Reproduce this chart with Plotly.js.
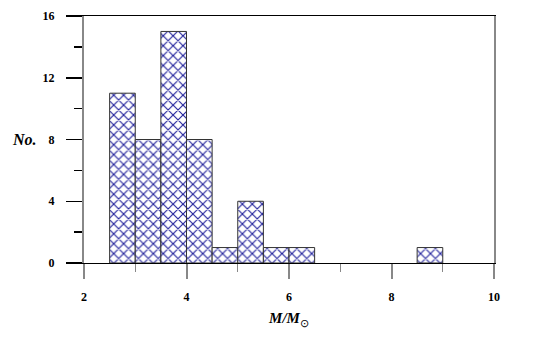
<!DOCTYPE html>
<html>
<head>
<meta charset="utf-8">
<script src="https://cdn.plot.ly/plotly-3.0.1.min.js"></script>
<style>
  html, body { margin: 0; padding: 0; background: #fff; }
  #chart { width: 545px; height: 344px; }
</style>
</head>
<body>
<div id="chart"></div>
<script>
// mass bins (centres, width 0.5) and counts
var binCentres = [2.75, 3.25, 3.75, 4.25, 4.75, 5.25, 5.75, 6.25, 8.75];
var binCounts = [11, 8, 15, 8, 1, 4, 1, 1, 1];
var binWidth = 0.5;

var xTicks = [2, 4, 6, 8, 10];
var yTicks = [0, 4, 8, 12, 16];

var serif = '"Liberation Serif", "Times New Roman", serif';

var bars = {
    type: 'bar',
    x: binCentres,
    y: binCounts,
    width: binWidth,
    marker: {
        color: 'white',
        line: { color: '#333', width: 1 },
        pattern: {
            shape: 'x',
            fgcolor: '#22229c',
            bgcolor: 'white',
            size: 7,
            solidity: 0.3
        }
    },
    hoverinfo: 'x+y'
};

var layout = {
    width: 545,
    height: 344,
    margin: { l: 84, r: 51, t: 16, b: 81 },
    paper_bgcolor: 'white',
    plot_bgcolor: 'white',
    showlegend: false,
    bargap: 0,
    font: { family: serif, color: '#000' },
    xaxis: {
        range: [2, 10],
        tickvals: xTicks,
        ticktext: xTicks.map(String),
        ticks: 'outside',
        ticklen: 15,
        tickwidth: 2,
        tickcolor: '#888',
        minor: { dtick: 1, tick0: 0, ticks: 'outside', ticklen: 8, tickcolor: '#888', tickwidth: 1 },
        showgrid: false,
        zeroline: false,
        showline: true,
        linecolor: '#000',
        linewidth: 1,
        mirror: true,
        ticklabelstandoff: 8,
        tickfont: { family: serif, size: 12, color: '#000', weight: 'bold' },
        title: {
            text: '<b><i>M/M</i></b><sub>⊙</sub>',
            font: { family: serif, size: 15, color: '#000' },
            standoff: 9
        }
    },
    yaxis: {
        range: [0, 16],
        tickvals: yTicks,
        ticktext: yTicks.map(String),
        ticks: 'outside',
        ticklen: 16,
        tickwidth: 1.5,
        tickcolor: '#000',
        minor: { dtick: 2, tick0: 0, ticks: 'outside', ticklen: 8, tickcolor: '#000', tickwidth: 1.5 },
        showgrid: false,
        zeroline: false,
        showline: true,
        linecolor: '#888',
        linewidth: 2,
        mirror: true,
        ticklabelstandoff: 9,
        tickfont: { family: serif, size: 12, color: '#000', weight: 'bold' }
    },
    annotations: [{
        text: '<b><i>No.</i></b>',
        xref: 'paper', yref: 'y',
        x: -0.11, y: 8,
        xanchor: 'right', yanchor: 'middle',
        showarrow: false,
        font: { family: serif, size: 16, color: '#000' }
    }]
};

var config = { displayModeBar: false, staticPlot: true };

Plotly.newPlot('chart', [bars], layout, config);
</script>
</body>
</html>
